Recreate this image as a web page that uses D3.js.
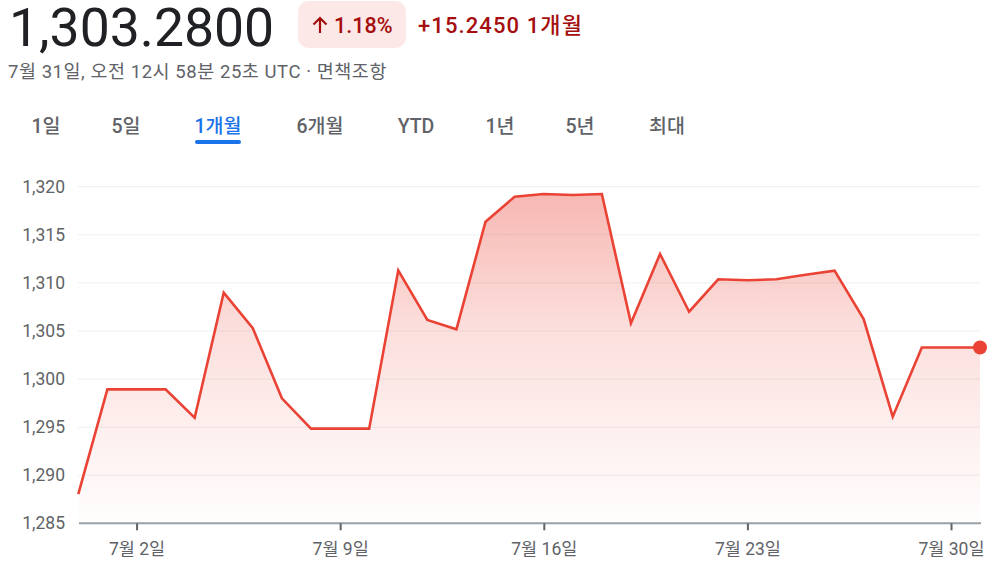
<!DOCTYPE html>
<html><head><meta charset="utf-8">
<script src="https://cdn.jsdelivr.net/npm/d3@7"></script>
<style>
html,body{margin:0;padding:0;background:#fff;}
svg{display:block;font-family:Roboto,"Noto Sans CJK KR",sans-serif;}
</style></head>
<body>
<svg id="chart" width="996" height="564"></svg>
<script>
// ---- data ----
const dates = ["2023-06-30","2023-07-01","2023-07-02","2023-07-03","2023-07-04","2023-07-05","2023-07-06","2023-07-07",
  "2023-07-08","2023-07-09","2023-07-10","2023-07-11","2023-07-12","2023-07-13","2023-07-14","2023-07-15",
  "2023-07-16","2023-07-17","2023-07-18","2023-07-19","2023-07-20","2023-07-21","2023-07-22","2023-07-23",
  "2023-07-24","2023-07-25","2023-07-26","2023-07-27","2023-07-28","2023-07-29","2023-07-30","2023-07-31"];
const values = [1288.04,1298.93,1298.93,1298.93,1295.98,1308.98,1305.28,1298.0,
  1294.84,1294.84,1294.84,1311.3,1306.14,1305.17,1316.36,1318.96,
  1319.24,1319.14,1319.24,1305.8,1313.0,1307.0,1310.37,1310.27,
  1310.37,1310.85,1311.27,1306.24,1296.08,1303.28,1303.28,1303.28];
const yTicks = [1285,1290,1295,1300,1305,1310,1315,1320];
const xTickDates = ["2023-07-02","2023-07-09","2023-07-16","2023-07-23","2023-07-30"];
const xTickLabels = ["7월 2일","7월 9일","7월 16일","7월 23일","7월 30일"];
const tabs = ["1일","5일","1개월","6개월","YTD","1년","5년","최대"];
const activeTab = "1개월";
const price = "1,303.2800";
const pctChange = "1.18%";
const absChange = "+15.2450 1개월";
const subtitle = "7월 31일, 오전 12시 58분 25초 UTC · 면책조항";

const svg = d3.select("#chart");
const parse = d3.utcParse("%Y-%m-%d");
const data = dates.map((d,i)=>({date:parse(d), value:values[i]}));

const x = d3.scaleUtc().domain(d3.extent(data,d=>d.date)).range([78.3,980]);
const y = d3.scaleLinear().domain([1285,1320]).range([523.3,186.7]);

// ---- header ----
svg.append("text").attr("x",9).attr("y",45.5).attr("font-size",53.5).attr("fill","#202124").text(price);
svg.append("rect").attr("x",298).attr("y",1).attr("width",108).attr("height",47).attr("rx",11).attr("fill","#fce8e6");
svg.append("path").attr("d","M320,33 V18 M313.5,24.5 L320,18 L326.5,24.5").attr("stroke","#a50e0e").attr("stroke-width",2.2).attr("fill","none");
svg.append("text").attr("x",334).attr("y",33).attr("font-size",21.5).attr("font-weight",500).attr("fill","#a50e0e").text(pctChange);
svg.append("text").attr("x",418).attr("y",33).attr("font-size",22).attr("font-weight",500).attr("letter-spacing",1.1).attr("fill","#a50e0e").text(absChange);
svg.append("text").attr("x",8).attr("y",78).attr("font-size",18.5).attr("letter-spacing",0.55).attr("fill","#5f6368").text(subtitle);

// ---- tabs ----
const tabCenters = [46,126,218,320,416,500,580,667];
tabs.forEach((t,i)=>{
  svg.append("text").attr("x",tabCenters[i]).attr("y",133).attr("text-anchor","middle")
    .attr("font-size",19.5).attr("font-weight",500)
    .attr("fill", t===activeTab ? "#1a73e8" : "#5f6368").text(t);
  if(t===activeTab){
    svg.append("rect").attr("x",tabCenters[i]-23).attr("y",140).attr("width",46).attr("height",4).attr("rx",2).attr("fill","#1a73e8");
  }
});

// ---- grid ----
svg.append("g").selectAll("line").data(yTicks.filter(v=>v!==1285)).join("line")
  .attr("x1",78).attr("x2",980).attr("y1",d=>y(d)).attr("y2",d=>y(d))
  .attr("stroke","#eef0f1").attr("stroke-width",1);
svg.append("g").selectAll("text").data(yTicks).join("text")
  .attr("x",65).attr("y",d=>y(d)+6).attr("text-anchor","end").attr("font-size",17.5).attr("fill","#5f6368")
  .text(d=>d3.format(",")(d));

// ---- area + line ----
const defs = svg.append("defs");
const grad = defs.append("linearGradient").attr("id","fillGrad").attr("gradientUnits","userSpaceOnUse")
  .attr("x1",0).attr("x2",0).attr("y1",y(d3.max(values))).attr("y2",y(1285));
[[0,0.38],[0.41,0.17],[0.72,0.08],[1,0.01]].forEach(([o,a])=>
  grad.append("stop").attr("offset",o).attr("stop-color","#ea4335").attr("stop-opacity",a));

svg.append("path").datum(data).attr("fill","url(#fillGrad)")
  .attr("d", d3.area().x(d=>x(d.date)).y0(y(1285)).y1(d=>y(d.value)));
svg.append("path").datum(data).attr("fill","none").attr("stroke","#ea4335").attr("stroke-width",2.6)
  .attr("stroke-linejoin","miter")
  .attr("d", d3.line().x(d=>x(d.date)).y(d=>y(d.value)));
const last = data[data.length-1];
svg.append("circle").attr("cx",x(last.date)).attr("cy",y(last.value)).attr("r",7).attr("fill","#ea4335");

// ---- x axis ----
svg.append("line").attr("x1",79).attr("x2",981).attr("y1",y(1285)).attr("y2",y(1285))
  .attr("stroke","#9aa0a6").attr("stroke-width",2);
const xt = svg.append("g").selectAll("g").data(xTickDates).join("g")
  .attr("transform",d=>`translate(${x(parse(d))+0.6},0)`);
xt.append("line").attr("y1",y(1285)).attr("y2",y(1285)+7).attr("stroke","#5f6368").attr("stroke-width",2);
xt.append("text").attr("y",555).attr("text-anchor","middle").attr("font-size",17.5).attr("fill","#5f6368")
  .text((d,i)=>xTickLabels[i]);
</script>
</body></html>
